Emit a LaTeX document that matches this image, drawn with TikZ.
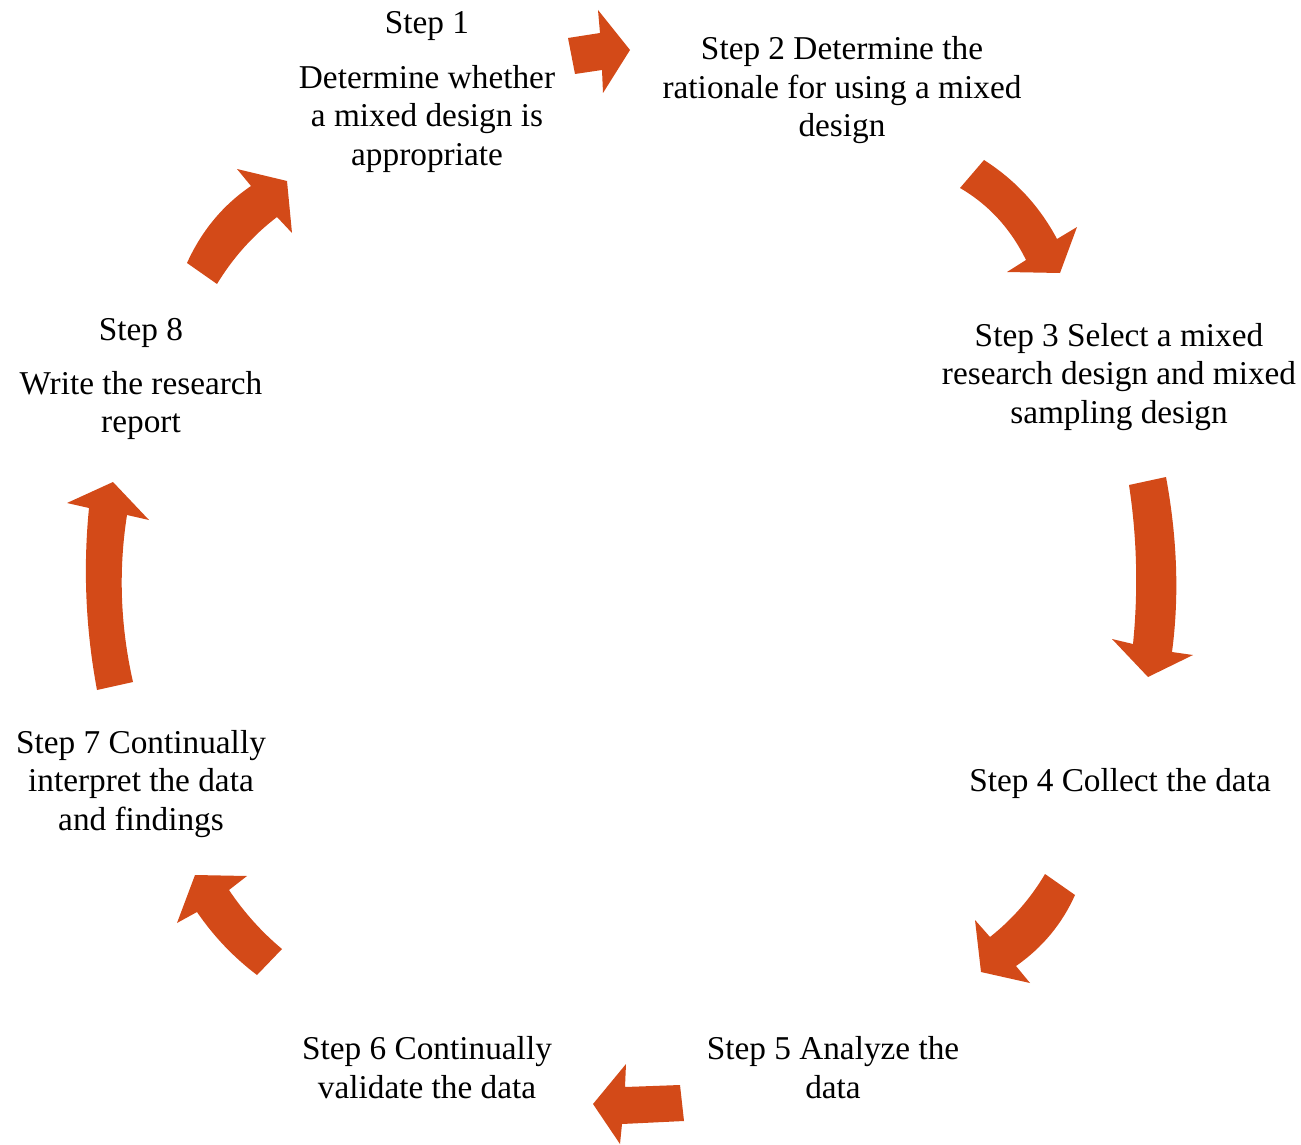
\documentclass[tikz,border=0pt]{standalone}
\usepackage{fontspec}
\setmainfont{Liberation Serif}
\usetikzlibrary{calc}
\definecolor{arrowred}{RGB}{211,74,24}
\begin{document}
\begin{tikzpicture}[x=1pt,y=-1pt,
  steptext/.style={align=center, inner sep=0pt, font=\fontsize{33.3}{38.5}\selectfont},
  blockarrow/.style={fill=arrowred, draw=none}]
\useasboundingbox (0,0) rectangle (1301,1145);

% step texts
\node[steptext] (s1) at (427,92) {Step 1\\[16pt]Determine whether\\a mixed design is\\appropriate};
\node[steptext] (s2) at (842,90.5) {Step 2 Determine the\\rationale for using a mixed\\design};
\node[steptext] (s3) at (1119,377) {Step 3 Select a mixed\\research design and mixed\\sampling design};
\node[steptext] (s4) at (1120,783) {Step 4 Collect the data};
\node[steptext] (s5) at (833,1067.5) {Step 5 Analyze the\\data};
\node[steptext] (s6) at (427,1067.5) {Step 6 Continually\\validate the data};
\node[steptext] (s7) at (141,784) {Step 7 Continually\\interpret the data\\and findings};
\node[steptext] (s8) at (141,379) {Step 8\\[15.5pt]Write the research\\report};

% arrow 1 -> 2
\fill[blockarrow] (568,38) -- (600,33) -- (598,10) -- (630,50) -- (603,93) -- (602,70) -- (575,74) -- cycle;
% arrow 2 -> 3
\fill[blockarrow] (960,188) -- (984,160)
  .. controls ($(984,160)!2/3!(1031,190)$) and ($(1057,239)!2/3!(1031,190)$) .. (1057,239)
  -- (1077,227) -- (1060,273) -- (1007,272) -- (1026,260)
  .. controls ($(1026,260)!2/3!(1003,213)$) and ($(960,188)!2/3!(1003,213)$) .. (960,188) -- cycle;
% arrow 3 -> 4
\fill[blockarrow] (1129,485) -- (1166,477)
  .. controls ($(1166,477)!2/3!(1183,569)$) and ($(1172,652)!2/3!(1183,569)$) .. (1172,652)
  -- (1193,655) -- (1148,677) -- (1112,639) -- (1133,644)
  .. controls ($(1133,644)!2/3!(1141,564)$) and ($(1129,485)!2/3!(1141,564)$) .. (1129,485) -- cycle;
% arrow 4 -> 5
\fill[blockarrow] (1045,874) -- (1075,895)
  .. controls ($(1075,895)!2/3!(1055.5,938.5)$) and ($(1016,966)!2/3!(1055.5,938.5)$) .. (1016,966)
  -- (1030,983) -- (981,972) -- (975,920) -- (990,937)
  .. controls ($(990,937)!2/3!(1023.5,910.5)$) and ($(1045,874)!2/3!(1023.5,910.5)$) .. (1045,874) -- cycle;
% arrow 5 -> 6
\fill[blockarrow] (680,1085) -- (625,1087) -- (626,1064) -- (593,1104) -- (620,1144) -- (622,1124) -- (684,1121) -- cycle;
% arrow 6 -> 7
\fill[blockarrow] (229,890) -- (247,876) -- (195,875) -- (177,923) -- (197,912)
  .. controls ($(197,912)!2/3!(222,948.5)$) and ($(257,975)!2/3!(222,948.5)$) .. (257,975)
  -- (282,949)
  .. controls ($(282,949)!2/3!(251.5,923.5)$) and ($(229,890)!2/3!(251.5,923.5)$) .. (229,890) -- cycle;
% arrow 7 -> 8
\fill[blockarrow] (133,682) -- (97,690)
  .. controls ($(97,690)!2/3!(80,599)$) and ($(89,508)!2/3!(80,599)$) .. (89,508)
  -- (67,503) -- (113,482) -- (149,520) -- (127,515)
  .. controls ($(127,515)!2/3!(114,598)$) and ($(133,682)!2/3!(114,598)$) .. (133,682) -- cycle;
% arrow 8 -> 1
\fill[blockarrow] (217,284) -- (187,263)
  .. controls ($(187,263)!2/3!(209,214.5)$) and ($(251,186)!2/3!(209,214.5)$) .. (251,186)
  -- (237,169) -- (287,181) -- (292,233) -- (277,217)
  .. controls ($(277,217)!2/3!(241,244.5)$) and ($(217,284)!2/3!(241,244.5)$) .. (217,284) -- cycle;
\end{tikzpicture}
\end{document}
